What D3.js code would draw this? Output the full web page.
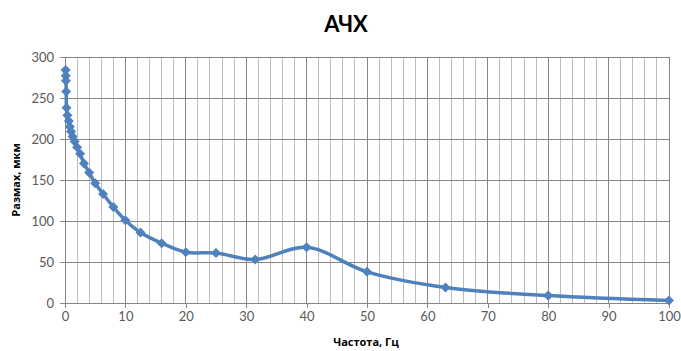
<!DOCTYPE html>
<html lang="ru">
<head>
<meta charset="utf-8">
<title>АЧХ</title>
<script src="https://d3js.org/d3.v7.min.js"></script>
<style>
  body { margin: 0; background: #fff; }
  svg { display: block; font-family: "Open Sans", Lato, sans-serif; }
</style>
</head>
<body>
<script>
// frequency, Hz
const freq = [0.1, 0.125, 0.16, 0.2, 0.25, 0.4, 0.63, 0.8, 1, 1.25, 1.6, 2, 2.5, 3.15,
              4, 5, 6.3, 8, 10, 12.5, 16, 20, 25, 31.5, 40, 50, 63, 80, 100];
// peak-to-peak, um
const amp = [284, 277, 271, 258, 238, 229, 222, 215, 209, 203, 197, 190, 182, 170,
             159, 146, 133, 117, 101, 86, 73, 62, 61, 53, 68, 38, 19, 9, 3];
const xTicks = [0, 10, 20, 30, 40, 50, 60, 70, 80, 90, 100];
const yTicks = [0, 50, 100, 150, 200, 250, 300];

const width = 681, height = 351;
const plotL = 65, plotR = 669, plotT = 57, plotB = 303;

const LINE = "#4f81bd";
const MAJOR = "#868686";
const MINOR = "#bcbcbc";
const TEXT = "#595959";

const svg = d3.select("body").append("svg")
    .attr("width", width)
    .attr("height", height);

const x = d3.scaleLinear().domain([0, 100]).range([plotL, plotR]);
const y = d3.scaleLinear().domain([0, 300]).range([plotB, plotT]);

// grid
const grid = svg.append("g");
grid.selectAll("line.v")
    .data(d3.range(2, 101, 2))
    .join("line")
    .attr("x1", d => x(d)).attr("x2", d => x(d))
    .attr("y1", y(300)).attr("y2", y(0))
    .attr("stroke", d => d % 10 === 0 ? MAJOR : MINOR)
    .attr("stroke-width", 1)
    .attr("shape-rendering", "crispEdges");

grid.selectAll("line.h")
    .data(yTicks.slice(1))
    .join("line")
    .attr("x1", x(0)).attr("x2", x(100))
    .attr("y1", d => y(d)).attr("y2", d => y(d))
    .attr("stroke", MAJOR)
    .attr("shape-rendering", "crispEdges");

// axes
const xAxis = svg.append("g")
    .attr("transform", `translate(0,${plotB})`)
    .call(d3.axisBottom(x).tickValues(xTicks).tickSize(5).tickPadding(4));
const yAxis = svg.append("g")
    .attr("transform", `translate(${plotL},0)`)
    .call(d3.axisLeft(y).tickValues(yTicks).tickSize(5).tickPadding(6));

[xAxis, yAxis].forEach(a => {
  a.select(".domain").attr("stroke", MAJOR).attr("shape-rendering", "crispEdges");
  a.selectAll(".tick line").attr("stroke", MAJOR).attr("shape-rendering", "crispEdges");
  a.selectAll(".tick text")
      .attr("fill", TEXT)
      .style("font-size", "13px")
      .style("font-family", "Lato, sans-serif");
});

// data line
const pts = freq.map((f, i) => [f, amp[i]]);
svg.append("path")
    .datum(pts)
    .attr("fill", "none")
    .attr("stroke", LINE)
    .attr("stroke-width", 3.5)
    .attr("stroke-linejoin", "round")
    .attr("d", d3.line()
        .x(d => x(d[0]))
        .y(d => y(d[1]))
        .curve(d3.curveCatmullRom.alpha(0.5)));

svg.append("g").selectAll("path")
    .data(pts)
    .join("path")
    .attr("transform", d => `translate(${x(d[0])},${y(d[1])})`)
    .attr("d", d3.symbol(d3.symbolDiamond2, 64))
    .attr("fill", LINE);

// titles
svg.append("text")
    .attr("x", 346).attr("y", 32)
    .attr("text-anchor", "middle")
    .style("font-family", "Lato, sans-serif")
    .style("font-weight", "bold")
    .style("font-size", "22px")
    .text("АЧХ");

svg.append("text")
    .attr("x", 366).attr("y", 346)
    .attr("text-anchor", "middle")
    .style("font-weight", "bold")
    .style("font-size", "11px")
    .text("Частота, Гц");

svg.append("text")
    .attr("transform", "translate(20,180) rotate(-90)")
    .attr("text-anchor", "middle")
    .style("font-weight", "bold")
    .style("font-size", "11px")
    .text("Размах, мкм");
</script>
</body>
</html>
